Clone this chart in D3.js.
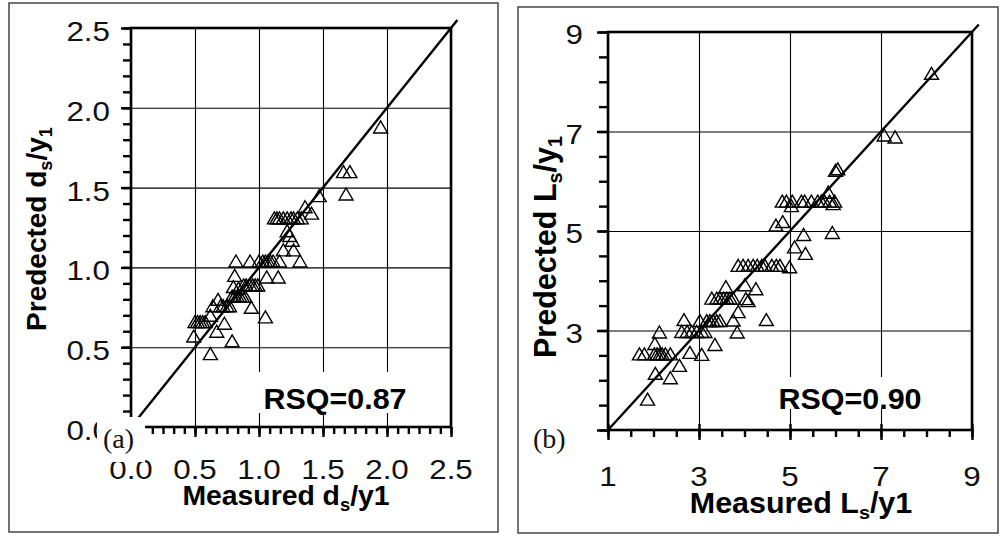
<!DOCTYPE html>
<html><head><meta charset="utf-8">
<script src="https://cdn.jsdelivr.net/npm/d3@7"></script>
<style>body{margin:0;background:#fff}svg{display:block}</style>
</head><body><svg id="c" width="1000" height="537"></svg>
<script>
// ---------- data ----------
const measuredA = [1.95, 1.66, 1.71, 1.68, 1.47, 1.36, 1.41,
  1.12, 1.14, 1.16, 1.19, 1.22, 1.25, 1.27, 1.30, 1.33,
  1.22, 1.24, 1.26, 1.19, 1.27, 1.32, 1.16,
  0.82, 0.93, 1.00, 1.03, 1.05, 1.07, 1.09, 1.11,
  1.06, 1.15, 0.81,
  0.88, 0.90, 0.93, 0.95, 0.97, 0.99,
  0.80, 0.84,
  0.79, 0.81, 0.83, 0.85, 0.87, 0.89,
  0.94, 1.05,
  0.70, 0.72, 0.75, 0.77,
  0.68, 0.64, 0.73, 0.67,
  0.50, 0.52, 0.54, 0.56, 0.58,
  0.62, 0.49, 0.79, 0.62];
const predictedA = [1.88, 1.60, 1.60, 1.46, 1.45, 1.38, 1.34,
  1.31, 1.31, 1.31, 1.31, 1.31, 1.31, 1.31, 1.31, 1.31,
  1.23, 1.20, 1.17, 1.11, 1.11, 1.04, 1.04,
  1.04, 1.04, 1.04, 1.04, 1.04, 1.04, 1.04, 1.04,
  0.94, 0.94, 0.95,
  0.89, 0.89, 0.89, 0.89, 0.89, 0.89,
  0.88, 0.87,
  0.82, 0.82, 0.82, 0.82, 0.82, 0.82,
  0.75, 0.69,
  0.76, 0.76, 0.76, 0.76,
  0.80, 0.76, 0.65, 0.60,
  0.66, 0.66, 0.66, 0.66, 0.66,
  0.70, 0.57, 0.54, 0.46];

const measuredB = [8.11, 7.07, 7.31, 6.00, 6.05,
  4.83, 4.92, 5.05, 5.25, 5.32, 5.47, 5.61, 5.69, 5.76, 5.87, 5.98,
  5.03, 5.84, 5.95,
  4.69, 4.84, 5.93, 5.30, 5.10, 5.34,
  3.86, 3.97, 4.08, 4.19, 4.28, 4.38, 4.45, 4.60, 4.70, 4.78,
  4.99,
  4.01, 3.59, 4.25,
  3.28, 3.39, 3.46, 3.54, 3.61, 3.68, 3.75,
  4.03, 4.08,
  3.86, 3.75, 3.84, 4.48,
  3.02, 3.17, 3.24, 3.31, 3.39, 3.46,
  2.67,
  2.62, 2.74, 2.84, 2.95, 3.06, 3.13,
  2.13, 2.03, 2.80, 3.06, 3.35,
  1.69, 1.80, 2.02, 2.08, 2.14, 2.19, 2.26, 2.37,
  2.57, 2.04, 2.37, 1.87];
const predictedB = [8.17, 6.93, 6.89, 6.22, 6.25,
  5.60, 5.60, 5.60, 5.60, 5.60, 5.60, 5.60, 5.60, 5.60, 5.60, 5.60,
  5.51, 5.78, 5.55,
  5.12, 5.19, 4.97, 4.93, 4.68, 4.55,
  4.31, 4.31, 4.31, 4.31, 4.31, 4.31, 4.31, 4.31, 4.31, 4.31,
  4.28,
  3.92, 3.88, 3.84,
  3.65, 3.65, 3.65, 3.65, 3.65, 3.65, 3.65,
  3.64, 3.60,
  3.38, 3.21, 2.97, 3.22,
  3.20, 3.20, 3.20, 3.20, 3.20, 3.20,
  3.22,
  2.98, 2.98, 2.98, 2.98, 2.98, 2.98,
  2.97, 2.74, 2.56, 2.52, 2.72,
  2.53, 2.53, 2.53, 2.53, 2.53, 2.53, 2.53, 2.53,
  2.30, 2.14, 2.05, 1.62];

const xTickLabelsA = ["0.0", "0.5", "1.0", "1.5", "2.0", "2.5"];
const yTickLabelsA = ["0.0", "0.5", "1.0", "1.5", "2.0", "2.5"];
const xTickLabelsB = ["1", "3", "5", "7", "9"];
const yTickLabelsB = ["1", "3", "5", "7", "9"];
const rsqTextA = "RSQ=0.87";
const rsqTextB = "RSQ=0.90";

// ---------- drawing ----------
const svg = d3.select("#c");
const SANS = "'Liberation Sans', Arial, Helvetica, sans-serif";
const SERIF = "'Liberation Serif', 'Times New Roman', serif";

function drawPanel(p) {
  const g = svg.append("g");
  const x = d3.scaleLinear().domain(p.xDomain).range([p.left, p.right]);
  const y = d3.scaleLinear().domain(p.yDomain).range([p.bottom, p.top]);
  const xMajor = p.xTicks.map(Number), yMajor = p.yTicks.map(Number);

  // outer frame
  g.append("rect").attr("x", p.frame[0]).attr("y", p.frame[1])
    .attr("width", p.frame[2]).attr("height", p.frame[3])
    .attr("fill", "none").attr("stroke", "#444").attr("stroke-width", 1.5);

  const clean = a => { a.select(".domain").remove(); a.selectAll("text").remove();
    a.selectAll("line").attr("stroke", "#000"); };

  // gridlines
  g.append("g").attr("transform", `translate(0,${p.bottom})`)
    .call(d3.axisBottom(x).tickValues(xMajor).tickSize(-(p.bottom - p.top)))
    .call(clean).selectAll("line").attr("stroke-width", 1.1);
  g.append("g").attr("transform", `translate(${p.left},0)`)
    .call(d3.axisLeft(y).tickValues(yMajor).tickSize(-(p.right - p.left)))
    .call(clean).selectAll("line").attr("stroke-width", 1.1);

  // white box behind RSQ
  g.append("rect").attr("x", p.rsqBox[0]).attr("y", p.rsqBox[1])
    .attr("width", p.rsqBox[2]).attr("height", p.rsqBox[3]).attr("fill", "#fff");

  // 1:1 line
  g.append("line")
    .attr("x1", x(p.diag[0])).attr("y1", y(p.diag[0]))
    .attr("x2", x(p.diag[1])).attr("y2", y(p.diag[1]))
    .attr("stroke", "#000").attr("stroke-width", 2.4);

  // points (open triangles)
  const pts = p.mx.map((v, i) => [v, p.my[i]]);
  g.append("g").selectAll("path").data(pts).join("path")
    .attr("d", "M0,-6L7,6L-7,6Z")
    .attr("transform", d => `translate(${x(d[0])},${y(d[1])})`)
    .attr("fill", "none").attr("stroke", "#000").attr("stroke-width", 1.4);

  // RSQ text
  g.append("text").attr("transform", `translate(${p.rsqPos[0]},${p.rsqPos[1]}) scale(1.05,1)`)
    .attr("text-anchor", "middle").attr("font-family", SANS).attr("font-weight", "bold")
    .attr("font-size", p.rsqSize).attr("fill", "#000").text(p.rsq);

  // ticks
  g.append("g").attr("transform", `translate(0,${p.bottom})`)
    .call(d3.axisBottom(x).tickValues(p.xMinor).tickSize(p.xMinorLen))
    .call(clean).selectAll("line").attr("stroke-width", 2.4);
  g.append("g").attr("transform", `translate(0,${p.bottom})`)
    .call(d3.axisBottom(x).tickValues(xMajor).tickSize(p.xMajorLen))
    .call(clean).selectAll("line").attr("stroke-width", 2.4).attr("y1", -p.xMajorIn);
  g.append("g").attr("transform", `translate(${p.left},0)`)
    .call(d3.axisLeft(y).tickValues(p.yMinor).tickSize(p.yMinorLen))
    .call(clean).selectAll("line").attr("stroke-width", 2.4);
  g.append("g").attr("transform", `translate(${p.left},0)`)
    .call(d3.axisLeft(y).tickValues(yMajor).tickSize(p.yMajorLen))
    .call(clean).selectAll("line").attr("stroke-width", 2.4);

  // plot border (thick)
  g.append("rect").attr("x", p.left).attr("y", p.top)
    .attr("width", p.right - p.left).attr("height", p.bottom - p.top)
    .attr("fill", "none").attr("stroke", "#000").attr("stroke-width", 2.6);

  // tick labels
  g.append("g").selectAll("text").data(p.yTicks).join("text")
    .attr("transform", d => `translate(${p.yLabelRight},${y(+d) + p.yLabelDy}) scale(1.12,1)`)
    .attr("text-anchor", "end").attr("font-family", SANS).attr("font-size", 28)
    .attr("fill", "#111").text(d => d);
  g.append("g").selectAll("text").data(p.xTicks).join("text")
    .attr("transform", d => `translate(${x(+d)},${p.xLabelBase}) scale(1.12,1)`)
    .attr("text-anchor", "middle").attr("font-family", SANS).attr("font-size", 28)
    .attr("fill", "#111").text(d => d);

  // corner box + panel letter
  g.append("rect").attr("x", p.cornerBox[0]).attr("y", p.cornerBox[1])
    .attr("width", p.cornerBox[2]).attr("height", p.cornerBox[3]).attr("fill", "#fff");
  g.append("text").attr("x", p.letterPos[0]).attr("y", p.letterPos[1])
    .attr("font-family", SERIF).attr("font-size", 28).attr("fill", "#111").text(p.letter);

  // x title
  const xt = g.append("text")
    .attr("transform", `translate(${p.xTitlePos[0]},${p.xTitlePos[1]}) scale(1.05,1)`)
    .attr("text-anchor", "middle").attr("font-family", SANS).attr("font-weight", "bold")
    .attr("font-size", p.xTitleSize).attr("fill", "#000");
  xt.append("tspan").text(p.xTitle[0]);
  xt.append("tspan").attr("font-size", p.xTitleSize * 0.65).attr("dy", 6).text(p.xTitle[1]);
  xt.append("tspan").attr("dy", -6).text(p.xTitle[2]);

  // y title
  const yt = g.append("text")
    .attr("transform", `translate(${p.yTitlePos[0]},${p.yTitlePos[1]}) rotate(-90)`)
    .attr("text-anchor", "middle").attr("font-family", SANS).attr("font-weight", "bold")
    .attr("font-size", p.yTitleSize).attr("fill", "#000");
  yt.append("tspan").text(p.yTitle[0]);
  yt.append("tspan").attr("font-size", p.yTitleSize * 0.65).attr("dy", 6).text(p.yTitle[1]);
  yt.append("tspan").attr("dy", -6).text(p.yTitle[2]);
  yt.append("tspan").attr("font-size", p.yTitleSize * 0.65).attr("dy", 6).text(p.yTitle[3]);
}

drawPanel({
  frame: [9, 3, 489, 529],
  left: 131, right: 451, top: 28, bottom: 427,
  xDomain: [0, 2.5], yDomain: [0, 2.5],
  xTicks: xTickLabelsA, yTicks: yTickLabelsA,
  xMinor: d3.range(0, 31).map(i => i * 2.5 / 30),
  yMinor: d3.range(0, 26).map(i => i / 10),
  xMinorLen: 7, xMajorLen: 10, xMajorIn: 0,
  yMinorLen: 8, yMajorLen: 10,
  mx: measuredA, my: predictedA,
  diag: [0, 2.55],
  rsq: rsqTextA, rsqPos: [335, 409], rsqSize: 29, rsqBox: [256, 372, 160, 41],
  yLabelRight: 110, yLabelDy: 13, xLabelBase: 479,
  cornerBox: [97, 417, 48, 45], letter: "(a)", letterPos: [103, 448],
  xTitle: ["Measured d", "s", "/y1"], xTitlePos: [286, 505], xTitleSize: 27,
  yTitle: ["Predected d", "s", "/y", "1"], yTitlePos: [46, 229], yTitleSize: 28
});

drawPanel({
  frame: [518, 7, 480, 526],
  left: 608, right: 972, top: 32, bottom: 430,
  xDomain: [1, 9], yDomain: [1, 9],
  xTicks: xTickLabelsB, yTicks: yTickLabelsB,
  xMinor: d3.range(0, 17).map(i => 1 + i * 0.5),
  yMinor: d3.range(0, 17).map(i => 1 + i * 0.5),
  xMinorLen: 7, xMajorLen: 10, xMajorIn: 6,
  yMinorLen: 9, yMajorLen: 11,
  mx: measuredB, my: predictedB,
  diag: [1, 9.15],
  rsq: rsqTextB, rsqPos: [850, 409], rsqSize: 29, rsqBox: [773, 377, 158, 32],
  yLabelRight: 583, yLabelDy: 12, xLabelBase: 486,
  cornerBox: [528, 418, 62, 42], letter: "(b)", letterPos: [533, 448],
  xTitle: ["Measured L", "s", "/y1"], xTitlePos: [801, 513], xTitleSize: 29,
  yTitle: ["Predected L", "s", "/y", "1"], yTitlePos: [556, 247], yTitleSize: 30.5
});
</script></body></html>
